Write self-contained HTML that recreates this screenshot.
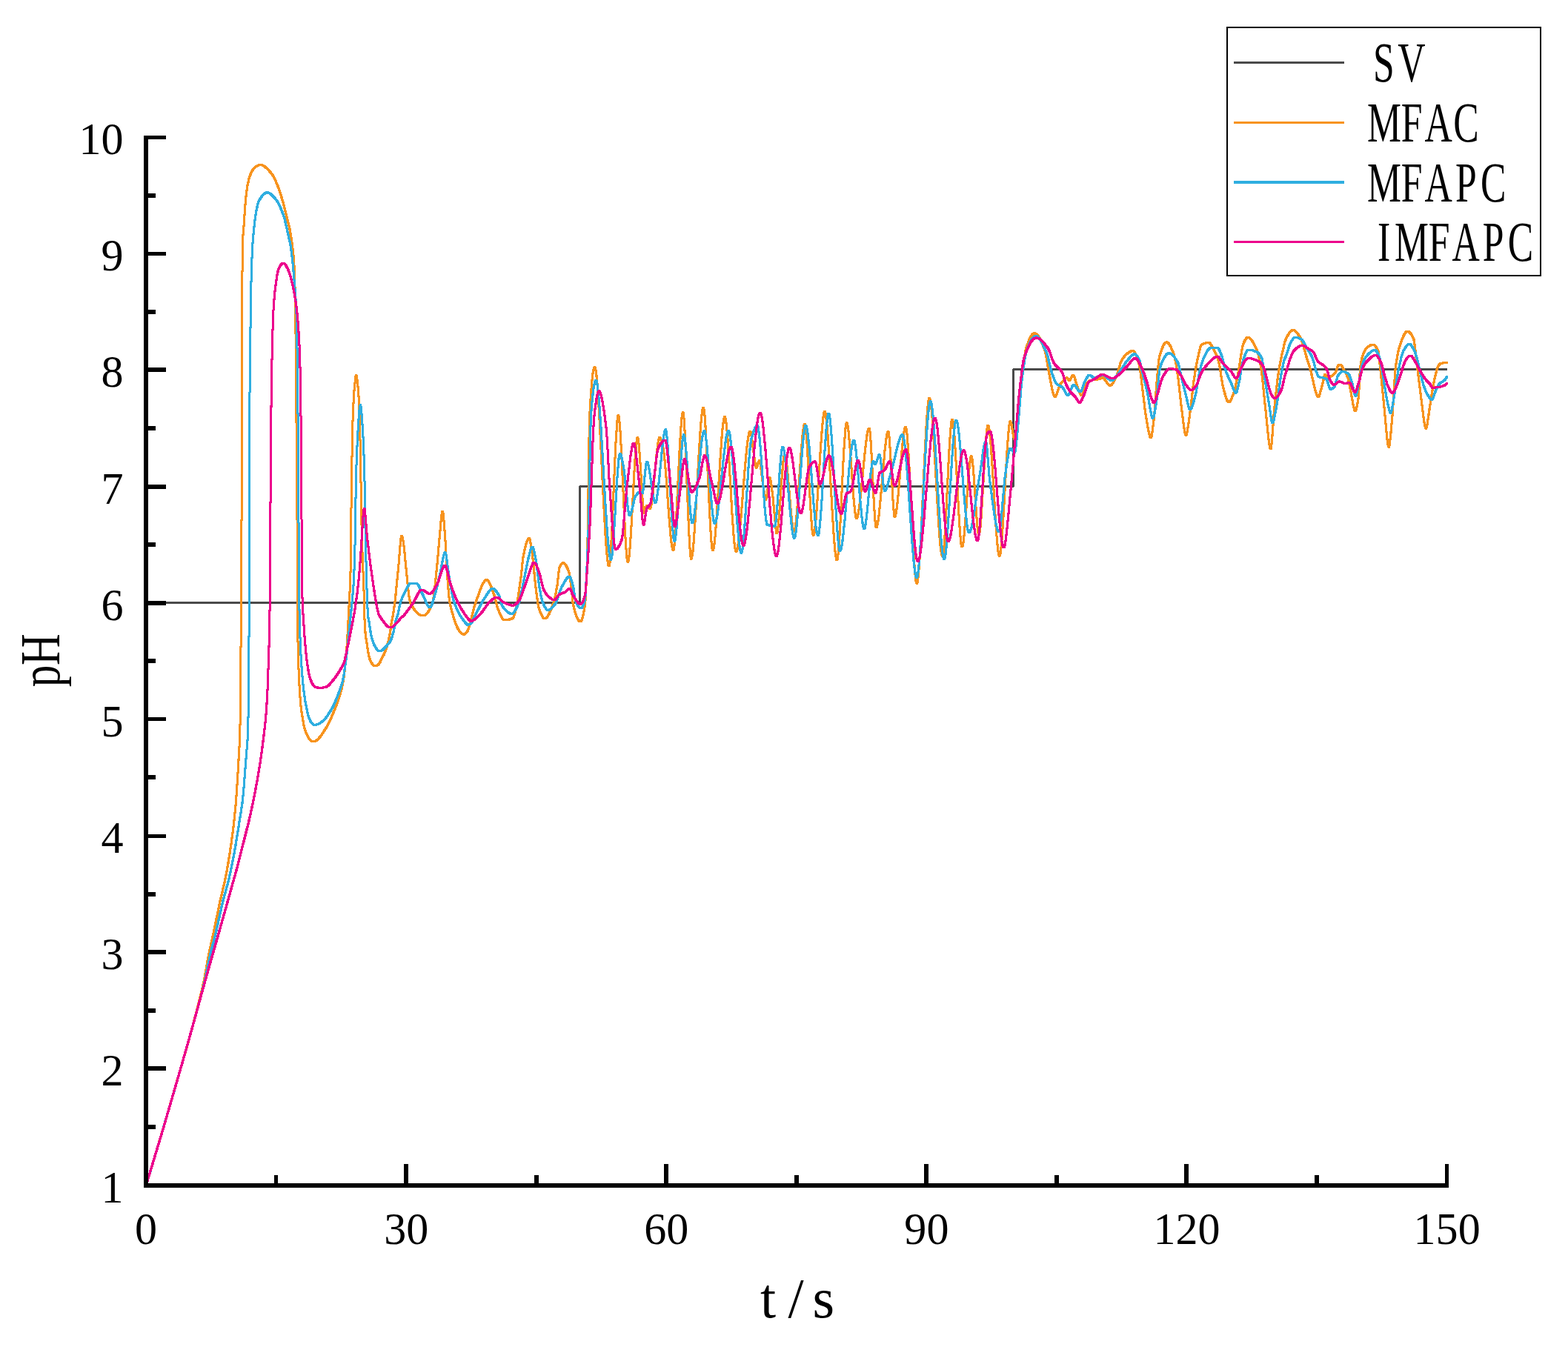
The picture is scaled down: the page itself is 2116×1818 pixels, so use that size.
<!DOCTYPE html>
<html lang="en"><head><meta charset="utf-8">
<style>html,body{margin:0;padding:0;background:#fff}body{width:2116px;height:1818px;overflow:hidden}svg{display:block}text{font-family:"Liberation Serif",serif;fill:#000}.c{fill:none;stroke-width:3;stroke-linejoin:round;stroke-linecap:butt}</style></head><body>
<svg width="2116" height="1818" viewBox="0 0 2116 1818">
<rect width="2116" height="1818" fill="#fff"/>
<g class="c" shape-rendering="crispEdges">
<path stroke="#4A4A4A" stroke-width="3" stroke-linejoin="bevel" d="M197.1 813.5 H782.5 V656.5 H1367.5 V498.5 H1952.9"/>
<defs>
<path id="co" d="M197.1 1600.0 L221.4 1519.3 L252.0 1413.7 L260.2 1384.2 L267.2 1357.6 L271.4 1341.0 L275.7 1321.7 L280.3 1295.7 L282.2 1286.1 L288.5 1257.6 L296.8 1217.2 L302.9 1191.4 L305.5 1178.9 L308.6 1161.2 L311.7 1140.9 L314.1 1123.6 L316.2 1105.2 L318.5 1081.6 L320.2 1056.5 L323.4 1001.8 L324.1 974.1 L325.1 864.4 L326.1 687.8 L326.9 378.5 L327.2 347.2 L327.8 322.0 L328.3 310.7 L329.6 300.3 L330.2 286.1 L330.7 278.9 L332.4 260.9 L334.1 249.6 L336.2 240.5 L337.3 237.2 L338.7 233.9 L340.5 230.4 L341.9 228.1 L343.8 226.0 L345.9 224.4 L348.2 223.2 L349.6 222.6 L350.9 222.4 L352.4 222.6 L354.5 223.3 L356.4 224.2 L360.8 227.9 L365.5 233.0 L368.4 237.0 L371.5 243.1 L375.7 253.1 L377.4 257.8 L382.7 275.6 L390.4 306.6 L391.7 312.8 L393.5 324.4 L395.9 343.5 L396.9 355.8 L397.7 376.0 L398.4 401.8 L398.9 436.0 L400.9 677.7 L401.7 842.8 L402.2 879.5 L403.2 908.0 L404.4 932.6 L405.7 950.1 L407.3 963.0 L410.0 978.7 L411.2 983.6 L412.5 987.6 L414.1 991.5 L416.1 995.2 L417.7 997.8 L419.1 999.3 L421.0 1000.4 L422.9 1001.0 L424.6 1000.9 L426.6 999.8 L429.5 997.5 L432.1 994.3 L435.6 989.5 L440.4 981.8 L443.5 976.2 L446.2 970.7 L453.7 952.6 L456.6 944.5 L458.7 938.1 L461.0 929.6 L462.6 922.8 L463.8 915.3 L465.0 906.3 L467.0 886.4 L468.7 863.6 L472.7 785.6 L473.1 768.3 L474.5 642.1 L475.9 571.7 L476.7 549.5 L477.9 528.4 L479.4 512.4 L480.0 508.2 L480.6 506.7 L481.1 507.6 L481.7 510.5 L483.0 521.6 L484.3 538.6 L485.1 555.0 L485.8 582.4 L488.4 729.6 L491.3 805.0 L491.8 832.5 L492.9 852.4 L493.6 859.3 L496.7 879.3 L497.7 884.7 L498.9 889.2 L499.7 891.4 L500.7 893.5 L503.4 897.3 L504.7 898.3 L507.5 898.8 L508.5 898.5 L509.8 897.7 L510.8 896.9 L511.8 895.6 L513.3 893.0 L515.6 887.5 L518.4 882.7 L519.8 879.3 L522.6 871.1 L524.2 865.3 L525.3 860.0 L526.9 851.0 L528.2 840.7 L529.9 832.7 L531.2 824.6 L533.2 810.9 L538.0 761.7 L540.4 732.2 L541.0 726.7 L541.6 723.9 L541.9 723.5 L542.3 723.7 L543.1 725.6 L543.9 729.4 L544.8 734.9 L546.1 746.6 L547.7 764.3 L550.8 795.1 L552.2 806.2 L553.5 812.7 L555.5 816.9 L558.3 821.5 L560.9 825.0 L563.6 827.8 L566.2 829.6 L568.9 830.8 L571.6 831.0 L573.6 830.3 L575.2 829.0 L576.8 827.2 L578.4 824.8 L580.1 821.7 L583.7 813.3 L584.9 807.8 L586.7 793.9 L589.9 762.6 L595.4 699.7 L596.3 692.7 L596.7 690.9 L597.1 690.1 L597.3 690.2 L597.6 691.0 L598.1 693.8 L599.4 707.4 L601.1 731.0 L602.6 760.6 L604.1 783.1 L605.5 801.4 L606.6 811.3 L607.9 817.5 L610.3 826.9 L612.5 834.5 L614.6 840.6 L616.7 845.8 L618.7 849.8 L620.8 852.9 L622.8 855.0 L623.9 855.7 L625.0 856.1 L626.1 856.3 L626.9 856.1 L628.0 855.3 L629.4 853.8 L630.4 852.6 L631.3 850.9 L632.6 847.5 L634.0 842.9 L640.5 817.3 L646.9 799.3 L649.7 792.0 L652.0 787.2 L654.1 784.1 L655.1 783.1 L656.0 782.7 L656.7 782.6 L657.4 782.8 L658.8 784.0 L660.4 786.4 L662.1 790.1 L667.6 805.0 L670.7 817.6 L671.8 821.4 L675.5 830.3 L678.0 834.9 L679.0 836.1 L680.0 836.8 L680.7 837.0 L682.6 836.9 L685.5 836.5 L688.4 835.8 L691.8 834.5 L692.5 833.9 L693.7 831.2 L695.0 826.6 L697.7 814.7 L698.9 808.1 L703.1 778.0 L705.5 756.0 L706.6 748.4 L708.9 738.4 L710.8 731.7 L712.5 727.7 L713.3 726.7 L714.0 726.4 L714.4 726.5 L714.7 727.0 L715.4 729.3 L717.2 740.1 L719.6 758.8 L722.6 790.0 L724.6 805.4 L726.0 814.6 L726.9 819.2 L727.7 822.2 L730.2 828.7 L732.2 832.7 L733.6 834.4 L734.3 834.9 L735.0 835.1 L736.5 834.7 L738.1 833.3 L739.8 830.8 L741.6 827.3 L746.2 816.1 L747.4 812.4 L748.7 807.3 L751.5 793.0 L752.3 787.7 L754.0 771.6 L754.7 767.2 L756.0 764.0 L757.5 761.4 L758.8 760.1 L759.4 759.8 L760.1 759.7 L761.0 760.0 L761.9 760.7 L763.9 763.3 L766.5 768.5 L767.4 770.6 L768.0 772.7 L769.3 779.6 L771.0 791.5 L773.2 814.7 L774.6 820.7 L776.4 827.1 L778.5 833.0 L780.6 836.9 L781.7 838.1 L782.8 838.8 L783.6 838.8 L784.4 838.1 L785.3 836.3 L786.3 833.2 L788.3 823.6 L789.7 814.3 L790.5 802.6 L792.1 762.9 L793.1 722.4 L795.0 591.7 L795.6 563.1 L797.3 534.0 L799.1 512.2 L800.0 504.5 L800.8 499.6 L801.7 496.3 L802.1 495.5 L802.5 495.2 L803.0 495.6 L803.5 497.0 L804.5 502.8 L805.5 512.0 L806.6 525.7 L809.2 569.0 L814.6 679.1 L817.0 722.1 L818.3 740.5 L819.5 753.4 L820.6 761.0 L821.2 763.3 L821.7 764.0 L822.0 763.9 L822.3 763.2 L823.0 759.0 L824.5 740.2 L826.2 707.2 L829.7 624.7 L831.2 593.6 L832.8 569.9 L833.6 563.2 L834.0 561.4 L834.3 560.9 L834.6 561.0 L834.9 561.7 L835.6 565.6 L837.1 583.0 L838.8 613.8 L842.6 698.3 L844.2 729.2 L845.1 742.8 L845.9 751.8 L846.7 757.2 L847.1 758.4 L847.4 758.7 L848.0 757.5 L848.7 753.7 L850.2 738.3 L851.9 712.1 L855.5 644.7 L857.1 618.2 L858.8 598.1 L859.6 592.7 L860.3 590.6 L860.6 590.6 L860.8 590.9 L861.3 592.9 L862.3 601.3 L863.5 617.2 L867.3 677.2 L868.5 688.8 L869.0 691.3 L869.5 692.1 L869.9 691.7 L870.3 690.8 L872.1 684.0 L872.9 682.3 L873.3 682.3 L873.9 682.7 L876.1 685.9 L877.1 686.7 L877.5 686.6 L877.8 686.1 L878.6 683.6 L879.7 677.4 L881.0 666.8 L885.8 615.8 L887.9 598.3 L888.9 593.0 L889.4 591.5 L889.9 590.6 L890.4 590.6 L891.0 591.2 L892.3 594.2 L895.0 604.7 L896.5 615.4 L898.6 638.7 L902.9 697.9 L904.8 720.8 L905.8 730.3 L906.8 737.4 L907.7 741.3 L908.2 742.3 L908.6 742.5 L908.9 742.0 L909.3 740.5 L910.1 734.9 L911.8 713.1 L913.4 684.1 L917.1 607.5 L918.9 577.1 L919.7 567.2 L920.5 560.2 L921.2 556.9 L921.6 556.3 L921.9 556.7 L922.5 559.7 L923.1 565.7 L924.5 588.9 L928.9 698.9 L930.4 730.9 L931.7 748.9 L932.3 753.1 L932.8 754.2 L933.2 753.8 L933.6 752.7 L934.5 747.9 L935.4 740.2 L936.3 729.9 L938.4 698.5 L943.0 614.8 L945.0 582.7 L946.1 568.7 L947.1 558.8 L948.0 552.9 L948.5 551.0 L948.9 550.2 L949.3 550.1 L949.6 550.7 L950.3 554.5 L951.1 562.3 L951.9 573.2 L953.6 604.4 L958.4 707.6 L959.9 730.3 L960.6 737.3 L961.2 741.0 L961.6 742.3 L962.0 742.4 L962.5 741.6 L963.0 739.9 L964.0 733.8 L965.0 724.7 L967.3 695.0 L972.0 619.0 L974.1 589.3 L975.2 577.2 L976.2 569.0 L977.2 564.0 L977.7 562.9 L978.1 562.6 L978.5 563.1 L979.0 564.7 L979.9 570.1 L980.9 579.4 L981.9 591.6 L983.8 620.7 L988.1 695.2 L990.1 723.5 L991.0 733.0 L991.8 739.2 L992.6 743.1 L993.0 744.0 L993.3 744.3 L993.7 744.1 L994.2 743.3 L995.2 739.8 L996.2 734.1 L997.3 725.8 L999.8 700.2 L1005.2 632.7 L1007.5 607.6 L1008.7 597.1 L1009.9 589.1 L1011.0 584.3 L1011.6 582.9 L1012.1 582.4 L1012.6 582.7 L1013.1 583.8 L1014.3 589.4 L1018.5 621.9 L1019.4 627.4 L1020.2 630.7 L1020.6 631.5 L1021.3 630.7 L1023.6 623.6 L1024.4 621.9 L1024.7 621.6 L1025.0 621.7 L1025.6 623.4 L1026.4 628.2 L1028.1 642.0 L1031.3 665.2 L1032.2 670.5 L1033.0 673.5 L1033.4 674.1 L1033.8 673.9 L1034.6 671.0 L1037.1 651.5 L1038.0 646.2 L1038.4 644.9 L1038.8 644.5 L1039.2 645.0 L1039.6 646.2 L1040.8 653.2 L1043.1 671.9 L1047.1 714.0 L1047.6 718.1 L1048.1 719.9 L1048.4 719.7 L1048.7 719.1 L1049.4 716.0 L1050.8 703.9 L1052.2 686.4 L1055.3 642.2 L1056.9 624.0 L1057.6 618.5 L1058.3 615.1 L1058.9 613.9 L1059.2 614.0 L1059.6 614.6 L1060.2 616.7 L1060.9 620.4 L1062.4 632.7 L1067.1 687.6 L1068.7 703.7 L1070.2 713.9 L1070.9 716.5 L1071.3 717.2 L1071.6 717.3 L1072.0 716.9 L1072.4 715.9 L1073.3 711.5 L1074.2 704.5 L1075.2 694.2 L1077.0 670.9 L1081.0 612.1 L1083.0 588.3 L1083.9 580.5 L1084.7 575.6 L1085.5 572.9 L1085.9 572.5 L1086.2 572.7 L1086.8 574.8 L1087.5 579.8 L1089.0 597.9 L1093.6 681.3 L1095.2 705.8 L1096.0 714.7 L1096.7 719.9 L1097.3 722.3 L1097.6 722.7 L1098.0 722.4 L1098.8 719.9 L1099.7 714.4 L1101.6 694.8 L1103.4 669.3 L1107.6 602.2 L1109.6 575.7 L1111.3 560.7 L1112.1 556.8 L1112.5 555.8 L1112.9 555.4 L1113.3 555.7 L1113.7 556.7 L1114.6 561.2 L1115.5 568.5 L1116.4 578.2 L1118.6 610.0 L1123.3 693.1 L1125.3 724.1 L1126.4 737.8 L1127.5 748.1 L1128.5 754.0 L1129.0 755.5 L1129.4 756.0 L1129.7 755.8 L1130.1 754.7 L1130.8 750.7 L1132.3 733.9 L1134.0 705.1 L1137.6 630.9 L1139.2 601.6 L1140.8 580.2 L1141.6 573.8 L1142.3 571.0 L1142.6 570.7 L1143.0 571.1 L1143.7 573.2 L1144.5 577.9 L1145.3 584.6 L1147.1 605.2 L1150.9 659.0 L1152.5 678.9 L1154.2 693.9 L1155.0 697.8 L1155.4 698.9 L1155.8 699.3 L1156.3 699.1 L1156.8 698.2 L1157.8 694.9 L1158.9 689.0 L1160.1 680.4 L1162.2 661.4 L1167.1 610.6 L1169.5 590.6 L1170.5 584.6 L1171.5 580.3 L1172.5 578.1 L1173.0 577.9 L1173.3 578.5 L1173.8 581.1 L1174.3 585.5 L1175.5 601.9 L1179.1 673.7 L1180.4 695.9 L1181.5 708.1 L1182.0 711.0 L1182.3 711.8 L1182.5 711.9 L1182.9 711.6 L1183.4 710.6 L1184.3 707.3 L1185.2 702.0 L1186.2 694.4 L1188.3 673.5 L1194.0 608.3 L1195.8 593.0 L1196.6 588.1 L1197.4 584.6 L1198.2 582.7 L1198.6 582.4 L1198.9 582.7 L1199.5 585.4 L1200.1 590.8 L1201.5 610.8 L1205.4 681.6 L1206.6 694.5 L1207.1 697.0 L1207.3 697.4 L1207.6 697.5 L1208.0 697.0 L1208.4 696.1 L1209.3 692.2 L1211.1 678.6 L1212.9 659.4 L1217.0 609.5 L1219.0 589.7 L1219.9 583.1 L1220.8 578.6 L1221.6 576.4 L1222.0 576.1 L1222.4 576.5 L1223.2 579.7 L1224.1 587.0 L1226.0 612.3 L1227.8 645.1 L1231.9 728.9 L1233.8 761.1 L1235.5 780.6 L1236.3 785.6 L1236.7 786.9 L1237.1 787.4 L1237.5 787.1 L1238.0 785.6 L1238.9 780.0 L1239.9 769.9 L1240.9 756.4 L1243.1 717.3 L1247.8 616.8 L1249.8 579.0 L1250.9 562.1 L1251.9 550.0 L1252.9 541.7 L1253.8 537.9 L1254.3 537.5 L1254.8 538.1 L1255.8 542.3 L1256.9 550.7 L1258.0 562.6 L1260.3 596.0 L1265.2 682.5 L1267.2 713.9 L1268.3 728.2 L1269.4 739.4 L1270.4 746.5 L1271.3 750.0 L1271.7 750.5 L1272.1 750.4 L1272.8 747.8 L1273.6 741.6 L1274.5 731.0 L1276.3 701.3 L1280.1 623.6 L1281.7 594.9 L1283.4 573.6 L1284.2 568.1 L1284.6 566.7 L1285.0 566.2 L1285.3 566.5 L1285.7 567.7 L1286.4 571.7 L1287.9 587.4 L1289.6 614.0 L1294.7 707.3 L1296.3 727.7 L1297.1 734.1 L1297.8 737.3 L1298.1 737.9 L1298.5 737.9 L1299.2 736.1 L1300.0 731.8 L1300.8 725.3 L1302.6 704.7 L1306.2 653.8 L1307.7 635.1 L1309.3 621.0 L1310.0 617.4 L1310.7 615.8 L1311.0 615.7 L1311.3 616.2 L1311.9 618.8 L1313.3 631.2 L1314.6 648.5 L1317.6 694.4 L1319.1 712.4 L1319.8 718.0 L1320.5 721.2 L1320.8 721.7 L1321.1 721.7 L1321.8 719.8 L1323.0 711.0 L1324.4 693.8 L1328.9 617.5 L1330.5 593.9 L1332.0 578.9 L1332.7 575.2 L1333.1 574.1 L1333.4 574.0 L1333.8 574.4 L1334.3 575.9 L1335.2 580.9 L1336.2 589.8 L1337.2 601.4 L1339.1 629.2 L1343.5 702.7 L1345.5 730.0 L1346.4 739.2 L1347.3 746.0 L1348.1 749.5 L1348.5 750.3 L1348.9 750.4 L1349.3 749.8 L1349.7 748.4 L1350.5 743.5 L1351.4 735.1 L1352.3 724.1 L1354.1 696.2 L1359.1 607.6 L1360.6 587.1 L1362.0 574.1 L1363.0 569.6 L1363.5 569.0 L1364.0 569.6 L1365.1 573.7 L1367.3 586.7 L1368.2 590.9 L1368.7 592.3 L1369.2 592.9 L1369.6 592.5 L1370.1 591.2 L1371.1 585.7 L1372.3 575.3 L1376.0 532.6 L1377.3 519.6 L1381.0 491.7 L1383.1 478.0 L1384.1 472.8 L1385.1 468.8 L1388.6 459.5 L1390.4 455.6 L1392.0 452.8 L1393.5 450.9 L1395.0 449.8 L1395.8 449.6 L1396.6 449.7 L1398.3 450.4 L1400.1 452.0 L1401.9 454.5 L1403.8 457.8 L1405.8 462.0 L1410.3 473.5 L1411.5 478.6 L1414.5 497.3 L1419.8 525.2 L1420.8 529.5 L1421.8 532.9 L1422.7 534.8 L1423.5 535.5 L1424.3 535.2 L1425.2 533.8 L1426.3 530.9 L1429.6 520.8 L1430.5 519.1 L1432.4 516.5 L1437.6 511.0 L1438.6 510.2 L1439.4 509.8 L1440.0 509.8 L1440.4 510.1 L1442.4 513.4 L1442.8 513.6 L1443.2 513.4 L1444.3 512.1 L1446.8 507.1 L1447.4 506.3 L1448.0 506.0 L1448.4 506.0 L1448.9 506.6 L1449.9 508.7 L1453.5 521.2 L1456.7 529.5 L1458.2 532.6 L1458.8 533.3 L1459.4 533.6 L1459.8 533.6 L1460.3 533.2 L1461.2 531.6 L1464.3 522.3 L1465.5 519.6 L1468.8 515.4 L1470.1 514.3 L1471.3 513.6 L1474.3 512.9 L1482.4 511.8 L1483.7 511.4 L1486.6 510.0 L1488.1 509.8 L1489.2 510.4 L1490.4 511.6 L1494.6 517.5 L1496.2 519.3 L1497.0 519.9 L1497.8 520.3 L1498.5 520.3 L1499.2 520.0 L1500.5 518.9 L1501.9 516.9 L1506.2 508.9 L1507.8 504.5 L1512.2 489.7 L1513.3 487.1 L1515.5 483.5 L1517.4 480.9 L1519.3 478.8 L1520.8 477.5 L1524.0 475.3 L1526.0 474.2 L1527.7 473.6 L1529.0 473.6 L1530.0 474.2 L1531.7 476.4 L1533.6 480.5 L1536.0 487.5 L1537.7 493.6 L1539.3 504.3 L1545.0 551.6 L1546.3 561.2 L1549.1 577.4 L1550.5 584.5 L1551.9 589.4 L1552.5 590.5 L1553.1 591.0 L1553.5 590.6 L1553.9 589.6 L1554.8 585.2 L1557.5 562.8 L1560.5 522.2 L1562.8 496.0 L1564.1 484.5 L1564.9 480.4 L1567.9 471.1 L1570.1 466.1 L1571.2 464.3 L1572.2 463.0 L1573.7 462.0 L1575.1 461.9 L1576.6 462.9 L1578.1 464.8 L1580.0 468.3 L1582.2 473.4 L1584.3 479.0 L1585.5 483.5 L1587.4 493.4 L1589.9 509.5 L1594.0 547.1 L1597.8 577.1 L1599.1 584.6 L1599.7 586.5 L1600.3 587.2 L1600.6 587.1 L1601.0 586.5 L1601.8 584.1 L1603.6 574.1 L1607.1 548.5 L1610.5 517.7 L1613.3 499.3 L1615.2 489.0 L1618.4 474.2 L1619.8 468.8 L1620.9 466.2 L1621.4 465.6 L1623.0 464.6 L1626.4 463.1 L1629.7 462.4 L1631.2 462.4 L1631.9 462.6 L1633.2 463.7 L1634.6 465.7 L1640.2 476.3 L1642.9 482.7 L1645.2 490.2 L1646.3 496.1 L1649.6 518.1 L1652.9 531.2 L1654.5 536.6 L1655.9 540.2 L1657.2 542.4 L1657.8 542.8 L1658.4 542.9 L1659.2 542.6 L1660.0 541.7 L1661.8 538.5 L1665.3 529.3 L1666.7 524.4 L1668.4 516.5 L1671.9 498.1 L1675.8 472.8 L1677.5 464.8 L1679.8 459.7 L1681.9 456.6 L1682.8 455.8 L1683.6 455.4 L1684.5 455.5 L1685.5 455.8 L1687.6 457.5 L1689.8 460.3 L1692.4 464.6 L1695.5 470.7 L1696.8 474.2 L1698.1 478.7 L1700.8 490.8 L1702.0 497.6 L1703.2 507.3 L1711.9 592.4 L1713.4 602.4 L1714.1 604.9 L1714.5 605.7 L1714.8 605.9 L1715.1 605.5 L1715.5 603.8 L1716.3 597.1 L1719.3 556.5 L1722.3 526.7 L1724.4 508.9 L1726.6 495.1 L1729.4 481.0 L1734.2 460.2 L1736.6 454.9 L1739.1 450.5 L1741.3 447.6 L1743.4 446.0 L1744.8 445.5 L1746.2 445.7 L1747.7 446.5 L1749.2 447.9 L1751.0 450.0 L1753.1 453.1 L1755.7 457.4 L1756.8 459.8 L1758.7 465.7 L1763.1 481.9 L1768.9 500.5 L1774.1 523.7 L1776.8 532.6 L1777.5 534.4 L1778.2 535.6 L1778.9 536.0 L1779.5 535.6 L1780.2 534.4 L1780.9 532.5 L1784.8 518.0 L1786.9 508.6 L1787.9 505.8 L1788.3 505.5 L1789.0 505.8 L1791.2 508.7 L1792.1 509.4 L1794.2 508.9 L1797.8 507.0 L1800.2 505.1 L1802.3 502.5 L1803.0 500.9 L1804.7 495.4 L1805.4 494.0 L1807.3 492.4 L1808.1 492.2 L1808.8 492.3 L1810.1 493.3 L1811.7 495.6 L1816.9 504.8 L1819.0 509.8 L1820.0 513.9 L1822.7 527.4 L1826.5 548.4 L1827.7 552.8 L1828.3 554.0 L1828.8 554.3 L1829.3 554.1 L1829.8 553.3 L1830.9 549.8 L1832.0 544.3 L1833.3 535.8 L1833.8 529.1 L1835.4 498.0 L1837.0 487.6 L1838.8 480.3 L1840.2 476.6 L1842.1 472.6 L1843.8 470.0 L1845.4 468.4 L1849.2 466.1 L1850.8 465.5 L1852.2 465.2 L1853.2 465.2 L1854.2 465.6 L1855.2 466.3 L1856.3 467.4 L1858.1 470.1 L1859.9 473.8 L1860.8 478.4 L1868.2 552.2 L1871.6 589.7 L1872.9 599.6 L1873.5 602.2 L1874.1 603.2 L1874.4 602.9 L1874.8 601.8 L1875.5 598.0 L1877.2 581.8 L1879.4 556.0 L1882.5 505.0 L1883.1 498.3 L1884.3 489.1 L1886.3 477.1 L1888.3 468.7 L1892.7 456.4 L1894.5 452.4 L1896.1 449.6 L1897.5 448.0 L1898.8 447.3 L1900.3 447.4 L1901.9 448.2 L1903.6 450.0 L1905.4 452.7 L1907.6 457.1 L1908.2 459.1 L1909.3 466.4 L1911.9 490.1 L1921.2 564.8 L1922.8 574.6 L1923.5 577.1 L1924.1 578.1 L1924.5 578.1 L1925.0 577.3 L1926.0 573.3 L1929.4 549.9 L1934.2 519.9 L1937.2 505.7 L1939.4 497.4 L1940.9 493.9 L1942.4 491.9 L1943.7 490.7 L1948.0 489.7 L1952.9 489.4"/>
<path id="cb" d="M197.1 1600.0 L217.2 1533.5 L236.0 1469.1 L257.2 1395.0 L268.8 1353.2 L273.8 1334.1 L277.2 1319.8 L283.8 1288.2 L291.6 1257.4 L300.7 1216.7 L308.1 1189.7 L311.7 1173.5 L315.1 1156.8 L318.1 1140.0 L325.2 1095.9 L327.3 1081.6 L329.0 1063.2 L331.7 1027.7 L334.0 999.4 L334.6 985.9 L335.2 960.0 L335.7 915.2 L336.1 845.0 L336.5 615.5 L336.7 557.1 L338.3 417.2 L339.0 380.5 L339.8 352.1 L340.7 332.2 L341.9 316.8 L344.0 296.8 L345.9 284.4 L348.0 275.2 L348.8 272.7 L350.0 270.2 L351.7 267.2 L353.5 264.7 L355.8 262.4 L358.1 260.6 L359.6 259.9 L360.6 259.8 L361.9 260.1 L363.9 261.0 L365.5 262.1 L367.8 264.1 L371.1 267.6 L374.0 271.6 L377.3 277.3 L382.4 290.0 L383.6 293.6 L385.6 301.9 L391.8 329.6 L393.6 341.7 L395.5 359.7 L398.4 394.7 L399.5 410.7 L400.1 425.5 L400.8 452.9 L401.9 540.6 L403.7 806.1 L404.4 843.1 L405.6 877.0 L406.9 898.9 L408.5 919.0 L410.3 935.9 L412.4 949.2 L415.3 963.0 L416.4 967.1 L417.6 970.5 L418.9 973.3 L420.2 975.3 L422.3 977.5 L423.2 978.1 L424.1 978.4 L426.8 978.1 L430.3 977.0 L433.2 975.1 L436.8 972.1 L439.6 969.1 L441.7 966.3 L447.0 957.9 L449.4 953.8 L451.7 948.8 L456.7 936.5 L461.1 923.7 L462.4 919.3 L463.4 914.8 L465.6 900.5 L467.7 884.5 L469.8 865.3 L474.7 816.7 L476.6 796.0 L477.4 784.4 L478.2 765.1 L479.0 736.6 L480.4 648.5 L481.3 617.8 L482.5 591.0 L483.9 567.2 L485.2 552.2 L485.8 548.2 L486.3 546.8 L486.5 547.0 L486.8 547.9 L487.4 551.4 L488.6 566.1 L490.0 590.0 L491.2 618.1 L492.0 649.1 L493.1 717.8 L493.8 750.9 L495.4 808.6 L496.4 828.8 L496.8 832.5 L498.0 839.0 L500.6 856.5 L501.5 860.3 L503.5 866.9 L504.9 870.3 L508.6 876.5 L510.6 878.4 L512.9 878.8 L514.2 878.5 L515.7 877.7 L519.8 873.9 L525.5 867.4 L526.6 865.7 L527.7 863.4 L529.2 859.3 L531.2 852.3 L534.3 837.2 L536.9 829.3 L539.3 817.4 L540.9 811.7 L542.7 806.7 L545.2 801.3 L548.4 795.1 L552.6 787.8 L562.5 787.8 L563.1 788.0 L563.7 788.5 L564.6 789.7 L565.6 791.6 L568.9 799.3 L571.2 804.0 L575.2 813.2 L577.0 816.8 L578.3 818.7 L579.5 819.7 L580.6 819.9 L581.5 819.0 L582.5 817.0 L583.7 813.6 L588.7 796.1 L593.9 774.4 L598.3 751.7 L599.6 747.3 L600.2 746.2 L600.7 745.8 L601.0 745.9 L601.4 746.6 L602.1 749.6 L605.6 775.8 L610.0 800.8 L611.4 807.5 L612.6 812.0 L614.2 816.4 L616.4 821.7 L618.5 826.1 L620.7 830.2 L622.9 833.7 L625.3 837.0 L627.9 840.2 L630.7 843.1 L632.5 842.9 L634.8 842.0 L635.6 841.5 L636.5 840.4 L638.2 837.3 L642.0 829.0 L649.3 815.2 L652.3 809.8 L660.3 797.6 L662.3 795.4 L664.0 794.4 L664.8 794.3 L665.7 794.5 L667.6 795.8 L669.6 798.0 L672.0 801.5 L673.4 803.8 L674.0 805.2 L676.8 815.0 L677.8 817.7 L679.6 820.3 L682.1 823.3 L683.9 825.1 L685.6 826.5 L687.2 827.4 L688.8 828.1 L690.3 828.3 L691.3 828.2 L692.4 827.6 L693.5 826.5 L695.4 823.6 L697.6 819.4 L699.6 815.1 L700.9 811.1 L702.9 802.9 L707.0 783.4 L712.2 756.6 L716.1 742.0 L717.3 739.1 L717.8 738.4 L718.3 738.1 L718.8 738.3 L719.3 739.0 L720.3 741.8 L721.4 746.5 L722.8 753.9 L724.6 764.8 L727.4 789.6 L730.4 805.9 L731.5 810.3 L732.5 813.3 L735.1 818.8 L737.1 821.9 L738.1 822.9 L739.1 823.4 L740.4 823.3 L741.8 822.7 L743.3 821.7 L744.9 820.3 L749.0 815.5 L750.1 813.6 L751.3 810.8 L756.1 796.9 L758.2 791.9 L762.4 784.4 L764.5 781.2 L766.6 779.0 L767.5 778.5 L768.4 778.3 L768.8 778.4 L769.3 778.8 L770.2 780.5 L771.3 783.6 L772.6 788.3 L773.9 793.7 L776.0 807.9 L776.4 809.6 L777.4 812.1 L779.8 817.1 L780.9 818.8 L781.9 820.0 L782.9 820.7 L783.9 820.9 L784.7 820.7 L785.6 819.9 L786.8 817.9 L788.0 814.9 L789.5 809.6 L789.8 807.4 L790.6 795.2 L792.6 752.4 L793.7 725.6 L794.6 697.7 L796.6 589.2 L797.4 561.3 L799.1 540.6 L800.8 525.5 L802.4 516.6 L803.2 514.2 L804.0 513.2 L804.5 513.4 L805.0 514.4 L806.1 519.5 L807.2 528.0 L808.4 540.6 L811.1 578.8 L816.8 677.8 L819.3 716.1 L820.6 732.2 L821.9 744.5 L823.1 751.9 L823.7 754.1 L824.3 755.0 L824.6 755.0 L824.9 754.5 L825.6 751.6 L826.3 746.4 L827.1 738.0 L828.7 715.5 L833.5 636.3 L835.0 619.6 L835.7 614.8 L836.3 612.5 L836.7 612.1 L837.2 612.4 L838.3 615.0 L839.6 620.5 L841.7 631.1 L843.2 643.5 L847.1 683.6 L848.3 692.0 L848.8 694.2 L849.3 695.5 L849.8 695.7 L850.4 695.2 L851.6 692.4 L852.8 688.0 L855.9 674.7 L856.8 671.7 L857.6 669.9 L860.3 666.1 L861.3 665.1 L862.2 664.5 L862.9 664.3 L863.6 664.3 L866.5 666.0 L866.9 666.0 L867.2 665.4 L867.8 662.7 L868.5 657.7 L871.6 628.5 L872.3 624.5 L872.7 623.2 L873.0 622.9 L873.6 623.3 L874.3 624.8 L875.8 631.3 L877.2 640.0 L880.5 663.7 L882.0 672.4 L883.3 677.3 L883.9 678.4 L884.5 678.6 L884.9 678.2 L885.3 677.3 L886.1 674.3 L887.9 662.5 L889.6 646.8 L893.4 607.2 L895.2 591.7 L896.8 582.6 L897.5 580.5 L897.9 579.9 L898.2 579.7 L898.5 580.0 L898.8 580.8 L899.4 583.9 L900.8 597.7 L902.4 621.9 L905.7 682.3 L907.2 706.6 L908.7 723.9 L909.4 728.6 L910.1 730.7 L910.4 730.7 L910.8 730.0 L911.5 726.9 L913.0 713.3 L914.7 689.7 L919.5 612.0 L921.1 594.4 L921.8 589.7 L922.5 587.2 L922.8 586.9 L923.1 587.1 L923.8 589.3 L924.5 593.8 L925.3 601.2 L926.8 620.2 L931.1 684.1 L932.4 697.8 L933.0 702.0 L933.6 704.7 L934.0 705.5 L934.4 705.5 L934.9 704.9 L935.4 703.6 L936.4 699.2 L937.4 692.8 L939.6 673.2 L944.4 619.6 L946.4 600.2 L947.5 591.8 L948.5 586.1 L949.5 582.5 L950.0 581.7 L950.4 581.5 L950.8 581.9 L951.2 582.8 L952.1 586.7 L953.9 601.1 L955.7 621.5 L959.6 671.9 L961.5 692.0 L963.1 703.1 L963.8 705.6 L964.2 706.3 L964.5 706.5 L965.0 706.2 L965.6 705.2 L966.7 701.6 L967.9 695.4 L969.1 687.2 L971.4 667.4 L976.7 615.3 L979.1 596.0 L980.2 589.3 L981.2 584.9 L982.2 582.2 L982.7 581.6 L983.1 581.5 L983.6 582.0 L984.1 583.3 L985.1 587.9 L986.2 595.9 L987.4 607.4 L989.5 632.7 L994.5 701.4 L996.9 728.2 L997.9 736.4 L998.9 742.3 L999.9 745.6 L1000.4 746.1 L1000.8 745.8 L1001.6 743.3 L1002.4 738.4 L1004.1 721.2 L1005.8 697.5 L1010.2 628.4 L1011.5 611.6 L1012.7 599.7 L1013.9 592.5 L1017.3 581.6 L1018.6 578.4 L1019.8 576.1 L1020.9 574.8 L1022.0 574.3 L1022.3 574.4 L1022.7 575.2 L1023.5 578.6 L1025.1 591.5 L1026.8 612.0 L1031.9 683.6 L1033.5 699.5 L1034.2 704.2 L1034.9 707.2 L1035.4 708.2 L1036.9 708.7 L1040.7 709.7 L1044.4 710.1 L1045.5 710.1 L1045.7 709.9 L1046.4 707.7 L1047.4 700.8 L1048.6 687.9 L1052.4 633.9 L1053.8 616.9 L1055.2 605.8 L1055.8 603.6 L1056.1 603.1 L1056.4 603.1 L1056.8 603.6 L1057.3 604.8 L1058.2 608.5 L1059.2 614.7 L1060.2 622.9 L1062.1 642.1 L1066.5 692.7 L1068.5 711.6 L1069.4 718.0 L1070.3 722.8 L1071.1 725.4 L1071.5 726.1 L1071.9 726.3 L1072.3 726.0 L1072.8 724.7 L1073.7 720.4 L1074.7 712.9 L1075.7 703.0 L1077.6 679.2 L1082.1 614.9 L1084.2 590.6 L1085.2 582.3 L1086.1 577.1 L1087.0 574.5 L1087.4 574.3 L1087.9 574.8 L1088.8 577.6 L1089.7 582.5 L1091.7 599.8 L1093.6 621.9 L1098.1 680.9 L1100.3 704.8 L1101.3 712.9 L1102.2 718.4 L1103.1 721.7 L1103.6 722.6 L1104.0 722.7 L1104.4 722.1 L1104.8 720.8 L1105.7 715.5 L1107.5 696.8 L1109.3 670.4 L1113.3 603.6 L1115.2 577.5 L1116.8 563.0 L1117.6 559.2 L1118.0 558.3 L1118.3 558.1 L1118.7 558.5 L1119.1 559.7 L1119.9 563.9 L1121.6 580.6 L1123.6 609.9 L1127.8 684.2 L1129.6 712.5 L1131.5 734.2 L1132.4 740.3 L1133.2 743.1 L1133.6 743.4 L1134.2 742.9 L1135.2 740.1 L1136.3 734.6 L1137.5 726.0 L1140.0 701.9 L1145.0 643.0 L1147.2 619.8 L1149.4 602.6 L1150.4 597.6 L1151.4 594.7 L1151.9 594.1 L1152.3 594.2 L1153.1 595.8 L1154.0 600.1 L1154.9 606.4 L1156.9 626.2 L1161.0 676.7 L1162.8 696.0 L1163.7 703.6 L1164.6 709.3 L1165.5 712.8 L1165.9 713.5 L1166.3 713.7 L1166.9 712.9 L1167.6 710.4 L1169.0 701.5 L1170.5 687.5 L1174.9 640.3 L1176.3 629.4 L1177.0 625.7 L1177.6 623.7 L1178.0 623.0 L1178.5 622.9 L1179.0 623.5 L1180.5 626.2 L1180.9 626.5 L1181.4 626.3 L1182.0 625.4 L1182.6 624.0 L1185.6 615.2 L1186.5 613.9 L1186.9 614.0 L1187.2 614.5 L1187.9 617.3 L1188.7 622.8 L1191.5 649.6 L1192.5 657.5 L1193.5 662.0 L1193.9 662.4 L1194.7 662.1 L1195.9 660.2 L1197.3 656.4 L1201.5 640.8 L1203.8 633.1 L1205.9 624.8 L1210.7 604.2 L1213.1 595.3 L1214.4 591.6 L1215.7 588.8 L1216.9 587.3 L1217.5 587.0 L1218.0 586.9 L1218.5 587.6 L1219.1 589.3 L1220.2 594.8 L1221.4 604.2 L1222.7 617.5 L1225.1 648.3 L1230.5 727.1 L1233.0 757.0 L1234.1 766.9 L1235.1 773.6 L1236.1 777.9 L1236.6 779.0 L1237.1 779.4 L1237.6 778.8 L1238.1 777.3 L1239.1 771.6 L1240.1 762.6 L1241.2 749.5 L1243.6 712.0 L1248.6 618.3 L1250.7 583.2 L1251.9 566.8 L1253.0 554.8 L1254.1 546.5 L1255.1 542.5 L1255.6 541.9 L1256.1 542.4 L1256.6 543.7 L1257.2 546.4 L1258.3 554.1 L1259.5 566.1 L1262.0 600.4 L1267.1 686.1 L1269.3 719.0 L1270.5 733.6 L1271.6 744.1 L1272.6 750.9 L1273.6 754.5 L1274.1 755.1 L1274.5 754.8 L1275.4 751.8 L1276.4 745.1 L1277.4 735.3 L1279.7 703.8 L1284.2 627.5 L1286.2 597.6 L1287.3 584.4 L1288.3 575.2 L1289.3 569.3 L1289.8 567.7 L1290.2 567.2 L1290.6 567.2 L1291.1 568.0 L1292.1 571.5 L1293.1 577.4 L1294.2 586.3 L1296.5 610.7 L1301.1 669.4 L1303.0 691.2 L1305.1 709.5 L1306.0 714.7 L1306.9 718.0 L1307.4 718.9 L1308.0 719.1 L1308.7 718.5 L1309.4 717.2 L1310.8 712.9 L1312.3 706.1 L1314.8 691.0 L1319.7 656.3 L1323.2 634.5 L1327.1 606.9 L1328.8 598.6 L1329.5 596.7 L1330.2 595.9 L1330.6 596.4 L1331.0 597.9 L1331.9 604.9 L1335.5 647.4 L1341.5 692.0 L1343.5 704.2 L1345.2 712.1 L1346.0 714.8 L1346.8 716.7 L1347.6 717.8 L1348.3 717.9 L1348.9 716.7 L1349.5 714.0 L1350.8 703.9 L1354.8 657.5 L1356.1 644.5 L1359.4 621.5 L1361.0 612.0 L1362.2 607.2 L1362.7 606.0 L1363.2 605.4 L1363.8 605.4 L1364.6 605.9 L1367.7 610.1 L1368.4 610.7 L1369.0 611.0 L1369.4 610.9 L1369.7 610.2 L1370.5 606.3 L1371.7 596.2 L1374.4 568.0 L1378.4 518.3 L1381.1 496.5 L1383.3 482.2 L1384.3 477.4 L1385.2 474.1 L1387.5 468.0 L1389.7 462.9 L1391.6 459.2 L1393.4 456.5 L1395.1 454.6 L1396.7 453.6 L1398.1 453.4 L1399.5 453.9 L1401.0 454.9 L1402.6 456.7 L1404.2 459.0 L1406.0 462.2 L1410.3 471.2 L1412.4 476.0 L1413.6 479.7 L1418.0 497.8 L1419.4 502.9 L1422.4 511.4 L1424.3 515.6 L1425.4 517.3 L1427.0 518.8 L1432.3 521.8 L1434.3 523.3 L1435.7 525.4 L1439.1 531.9 L1440.1 533.1 L1441.0 533.6 L1441.4 533.6 L1441.9 533.3 L1442.8 532.0 L1446.8 521.8 L1447.7 520.2 L1448.6 519.4 L1449.7 519.6 L1451.0 520.7 L1455.0 526.5 L1456.3 528.0 L1457.6 528.8 L1458.1 528.9 L1458.6 528.6 L1459.3 527.5 L1460.0 525.9 L1462.5 518.4 L1463.5 515.9 L1467.6 508.4 L1468.8 506.8 L1469.9 506.1 L1470.6 506.0 L1471.4 506.3 L1474.8 509.3 L1475.5 509.6 L1476.2 509.8 L1477.6 509.6 L1479.2 509.2 L1486.1 506.3 L1487.8 506.0 L1489.2 506.0 L1490.3 506.4 L1491.6 507.3 L1496.2 511.6 L1498.1 513.0 L1499.1 513.5 L1500.0 513.6 L1500.9 513.5 L1501.8 513.0 L1503.1 512.1 L1504.5 510.6 L1510.4 503.0 L1512.5 499.9 L1519.1 489.3 L1525.3 481.8 L1527.5 479.6 L1529.4 478.3 L1531.2 477.8 L1532.6 478.3 L1534.1 479.9 L1535.8 482.4 L1537.3 485.2 L1538.2 488.0 L1541.2 501.2 L1548.1 527.9 L1552.2 552.2 L1553.5 558.9 L1554.7 563.0 L1555.2 563.9 L1555.7 564.3 L1556.1 564.1 L1556.6 563.3 L1557.7 559.4 L1560.7 541.5 L1561.6 533.2 L1564.0 505.7 L1564.6 501.0 L1565.5 496.7 L1566.5 493.0 L1567.5 490.2 L1571.3 482.6 L1572.8 480.2 L1574.2 478.4 L1575.5 477.3 L1576.8 476.8 L1578.2 476.9 L1579.7 477.4 L1581.3 478.4 L1582.9 479.9 L1584.7 481.9 L1586.5 484.4 L1588.9 488.2 L1589.9 490.2 L1591.3 495.0 L1594.5 509.5 L1600.4 533.1 L1603.7 548.2 L1604.9 551.9 L1605.4 552.8 L1605.9 553.1 L1606.5 552.9 L1607.2 552.1 L1608.7 549.0 L1610.3 544.1 L1613.1 534.0 L1614.6 526.6 L1618.6 502.7 L1620.3 495.6 L1622.2 488.9 L1624.1 483.7 L1627.4 477.0 L1629.9 472.8 L1632.0 470.3 L1633.0 469.6 L1634.0 469.3 L1642.8 469.3 L1643.8 469.8 L1644.8 471.2 L1646.4 474.4 L1648.7 480.1 L1652.6 495.9 L1654.6 501.9 L1656.7 506.9 L1661.2 516.4 L1665.3 527.1 L1666.6 529.3 L1667.2 529.9 L1667.7 530.1 L1668.4 529.7 L1669.1 528.3 L1670.8 521.9 L1673.1 511.2 L1675.7 494.7 L1676.7 489.7 L1679.7 480.3 L1682.0 474.9 L1682.9 473.4 L1683.8 472.4 L1684.6 472.0 L1685.7 472.0 L1688.2 472.3 L1691.0 473.1 L1695.1 474.7 L1696.9 475.6 L1698.9 477.3 L1700.8 479.7 L1702.6 482.8 L1703.2 485.0 L1704.2 491.0 L1706.6 509.3 L1712.4 544.2 L1715.2 563.7 L1716.3 569.0 L1716.8 570.3 L1717.2 570.7 L1717.6 570.5 L1718.0 570.0 L1718.8 567.9 L1720.7 559.2 L1723.7 542.2 L1727.9 511.6 L1730.6 496.5 L1732.4 488.2 L1733.6 484.4 L1735.4 480.8 L1736.2 478.8 L1739.4 468.2 L1740.7 464.7 L1743.1 460.2 L1744.7 457.6 L1746.1 456.0 L1747.3 455.3 L1750.0 455.4 L1753.2 456.5 L1756.8 458.4 L1758.3 460.1 L1763.2 469.2 L1768.7 477.9 L1770.9 482.3 L1772.3 486.5 L1775.9 500.7 L1778.7 507.4 L1779.4 508.4 L1780.0 508.8 L1787.1 510.3 L1788.9 511.0 L1790.2 511.8 L1791.4 514.4 L1794.0 523.2 L1795.1 525.3 L1795.5 525.5 L1796.2 525.4 L1797.8 524.7 L1799.4 523.4 L1801.2 521.4 L1802.2 518.7 L1804.9 508.4 L1805.4 507.3 L1807.2 504.8 L1809.0 502.9 L1810.7 501.7 L1812.1 501.4 L1814.2 501.7 L1816.5 502.6 L1819.0 504.2 L1820.2 505.2 L1821.2 506.9 L1822.4 510.0 L1824.7 517.2 L1828.0 531.8 L1828.7 533.7 L1829.3 534.3 L1829.8 534.0 L1830.3 533.0 L1831.4 529.0 L1838.1 494.0 L1839.0 491.0 L1840.8 486.4 L1842.3 483.4 L1843.8 481.1 L1846.9 477.7 L1849.4 475.4 L1851.5 473.8 L1853.5 472.8 L1855.5 472.5 L1856.6 473.0 L1858.1 474.8 L1859.8 477.9 L1861.3 481.3 L1862.3 484.8 L1863.8 492.3 L1866.8 509.8 L1870.7 534.7 L1874.4 552.1 L1875.6 555.8 L1876.1 556.7 L1876.6 557.1 L1877.1 556.9 L1877.6 555.9 L1878.7 551.4 L1886.6 502.4 L1888.6 492.7 L1891.0 482.3 L1892.6 476.7 L1894.1 473.1 L1897.5 467.8 L1898.9 466.1 L1900.2 465.0 L1901.3 464.5 L1902.4 464.4 L1903.4 464.9 L1904.4 465.9 L1906.7 469.5 L1910.0 476.5 L1912.0 483.0 L1919.0 512.4 L1921.0 519.6 L1923.4 526.3 L1925.4 530.8 L1928.8 536.3 L1930.8 538.7 L1931.6 539.2 L1932.3 539.3 L1932.8 539.1 L1933.4 538.3 L1934.5 535.7 L1937.3 527.7 L1940.5 521.1 L1942.2 518.2 L1943.9 516.5 L1947.5 514.6 L1949.0 513.5 L1950.8 511.4 L1952.9 508.3"/>
<path id="cm" d="M197.1 1600.0 L220.8 1521.4 L245.6 1435.9 L260.9 1381.8 L278.5 1317.9 L302.3 1234.4 L320.9 1167.7 L335.7 1108.9 L338.9 1094.8 L342.5 1077.7 L346.4 1057.2 L349.1 1041.7 L351.4 1027.2 L353.9 1009.5 L356.8 986.3 L358.1 974.6 L359.0 964.6 L360.1 948.3 L361.0 931.4 L362.8 881.1 L363.8 840.5 L364.3 800.8 L365.4 613.2 L366.2 530.5 L367.3 468.9 L368.6 425.1 L369.5 410.6 L370.7 396.2 L372.2 383.0 L374.1 370.7 L375.3 365.2 L376.7 361.4 L378.9 357.8 L380.2 356.4 L381.3 355.5 L382.5 355.1 L383.6 355.4 L384.8 356.6 L386.1 358.7 L388.3 362.8 L389.7 366.0 L391.2 370.4 L392.8 375.7 L395.6 387.6 L398.3 402.4 L400.4 417.1 L401.8 431.0 L403.0 447.9 L404.0 465.8 L404.9 491.0 L405.5 514.3 L406.5 606.3 L407.4 773.1 L407.9 803.6 L408.7 824.1 L411.1 860.3 L412.6 878.0 L414.4 894.7 L416.4 906.9 L417.6 912.2 L418.9 916.7 L420.4 920.6 L421.8 923.4 L423.6 925.7 L425.3 927.1 L426.6 927.7 L429.7 928.2 L433.8 928.2 L438.3 927.8 L440.0 927.2 L442.0 926.2 L444.0 924.6 L450.5 916.8 L454.3 911.6 L457.4 907.0 L463.1 897.2 L464.2 894.5 L465.2 891.1 L471.4 862.3 L475.8 840.3 L479.2 821.0 L481.7 803.3 L483.6 787.5 L484.9 773.6 L486.9 747.3 L489.8 699.4 L490.7 689.8 L491.1 687.3 L491.5 686.4 L491.8 686.7 L492.1 687.7 L492.7 692.1 L495.5 725.2 L499.7 760.8 L505.1 798.1 L507.1 810.6 L508.8 819.9 L510.6 827.3 L511.3 829.5 L512.1 831.1 L516.1 837.1 L518.8 840.7 L521.4 844.0 L523.0 845.5 L523.9 846.1 L525.4 846.5 L526.8 846.5 L529.1 846.4 L530.0 846.0 L536.8 839.4 L539.6 835.7 L541.2 834.0 L543.0 832.3 L545.0 830.9 L551.3 822.5 L557.8 813.4 L559.6 810.2 L564.6 800.4 L566.1 798.1 L567.5 796.6 L568.3 796.1 L569.0 796.0 L570.8 796.3 L572.6 797.3 L576.9 800.4 L579.1 801.3 L580.1 801.4 L581.0 801.1 L582.0 800.4 L583.0 799.5 L585.6 795.9 L590.3 787.9 L592.1 783.2 L595.7 771.6 L597.2 767.4 L598.8 764.2 L599.5 763.4 L600.2 763.1 L600.7 763.2 L601.3 763.9 L602.4 766.4 L603.7 770.9 L606.6 783.3 L608.0 788.4 L612.8 801.5 L616.8 811.1 L621.2 819.5 L626.3 827.7 L630.7 833.8 L633.5 837.1 L635.1 838.2 L636.7 838.1 L638.6 837.4 L640.6 836.1 L642.8 834.1 L650.3 826.4 L657.2 816.6 L659.7 813.4 L665.3 808.4 L666.9 807.2 L668.4 806.4 L670.2 806.1 L671.8 806.5 L673.5 807.7 L677.2 811.3 L678.8 812.5 L684.1 815.0 L687.7 816.4 L690.5 817.1 L692.9 817.2 L694.6 816.5 L696.5 815.1 L699.9 811.4 L701.1 809.5 L702.4 806.7 L704.3 801.9 L711.4 782.2 L717.1 764.6 L719.0 760.6 L719.9 759.5 L720.7 759.1 L721.3 759.2 L722.0 759.7 L723.4 761.8 L724.9 765.3 L727.8 773.1 L729.1 777.7 L732.2 791.2 L733.6 795.7 L735.2 798.7 L736.9 801.4 L738.7 803.7 L740.5 805.5 L743.6 807.9 L745.5 809.1 L747.2 809.7 L748.6 809.7 L750.1 808.4 L753.3 803.9 L754.6 802.5 L756.7 801.4 L761.4 799.7 L763.4 798.7 L764.4 797.9 L767.1 795.0 L767.9 794.5 L768.6 794.4 L769.3 794.9 L770.0 796.0 L773.2 803.3 L777.4 810.0 L779.3 812.6 L780.9 814.3 L782.4 815.2 L783.7 815.3 L784.9 814.5 L786.0 812.9 L787.1 810.6 L789.5 803.4 L790.1 799.5 L790.7 792.9 L794.0 745.3 L795.9 711.8 L797.1 681.6 L799.9 598.7 L801.4 566.7 L802.6 554.8 L804.9 538.6 L806.6 530.7 L807.4 528.7 L808.1 527.9 L808.6 528.0 L809.2 528.5 L810.3 530.6 L811.5 534.4 L812.7 539.8 L815.3 555.6 L818.3 579.1 L819.5 596.4 L822.3 651.4 L826.1 704.9 L827.4 720.9 L828.6 732.4 L829.6 738.8 L830.1 740.7 L830.6 741.5 L831.6 741.4 L832.8 740.6 L833.9 739.4 L835.1 737.5 L836.7 734.4 L838.4 730.2 L839.1 728.2 L839.6 725.7 L840.4 719.8 L841.3 711.0 L844.5 672.1 L845.8 658.7 L851.1 614.2 L852.7 604.3 L853.4 601.2 L854.1 599.1 L854.6 598.3 L855.1 598.1 L855.5 598.4 L856.0 599.5 L857.0 603.7 L858.2 611.7 L863.6 661.1 L866.9 699.9 L867.7 705.9 L868.1 707.7 L868.5 708.3 L868.8 708.1 L869.1 707.4 L869.7 704.9 L871.9 690.5 L872.8 686.4 L873.9 684.5 L876.2 682.3 L877.2 681.0 L877.9 679.4 L878.6 676.3 L879.9 667.5 L886.1 616.6 L887.0 610.4 L887.8 606.4 L888.3 604.9 L889.9 601.7 L892.7 597.4 L894.0 595.9 L895.2 594.9 L896.4 594.3 L897.6 594.1 L897.9 594.2 L898.2 594.7 L898.9 597.3 L900.4 607.9 L905.2 656.9 L908.7 699.4 L909.8 708.1 L910.3 710.3 L910.8 711.0 L911.3 710.5 L911.8 709.0 L913.0 702.3 L918.0 660.7 L921.3 630.9 L922.5 623.1 L923.1 620.6 L923.6 619.5 L924.0 619.3 L924.4 619.7 L925.3 622.6 L926.4 628.7 L929.0 646.3 L931.3 658.2 L932.5 663.1 L933.0 664.1 L933.6 664.2 L934.6 663.8 L935.7 662.8 L937.9 659.5 L940.4 654.0 L944.1 644.4 L945.4 639.2 L948.2 623.3 L949.4 617.8 L950.0 615.9 L950.6 614.9 L951.2 614.9 L951.8 615.4 L952.5 616.7 L953.2 618.5 L954.8 624.4 L958.8 643.7 L961.2 653.8 L965.4 673.7 L966.9 678.3 L967.6 679.3 L968.3 679.5 L969.3 678.6 L970.4 676.3 L971.6 672.4 L972.8 667.2 L975.0 655.6 L980.3 623.7 L982.8 611.5 L984.0 607.2 L985.1 604.6 L986.2 603.2 L986.7 603.1 L987.1 603.4 L988.0 605.7 L988.9 610.0 L989.9 616.7 L991.0 626.1 L992.9 646.1 L997.4 699.0 L999.7 721.1 L1000.7 728.2 L1001.7 733.2 L1002.7 735.9 L1003.1 736.2 L1003.6 736.0 L1004.2 735.1 L1004.9 733.2 L1006.2 727.3 L1007.6 718.0 L1009.0 706.3 L1011.7 678.4 L1017.8 607.4 L1020.8 578.6 L1022.1 569.2 L1023.4 562.2 L1024.6 558.4 L1025.2 557.4 L1025.7 557.2 L1026.2 557.6 L1026.8 558.7 L1027.9 562.8 L1029.1 569.9 L1030.4 580.2 L1033.3 610.6 L1039.4 688.5 L1042.1 719.0 L1043.5 731.7 L1044.9 741.7 L1046.2 747.8 L1046.8 749.5 L1047.4 750.4 L1047.9 750.6 L1048.3 750.2 L1049.3 747.4 L1050.3 742.2 L1051.4 734.2 L1053.8 710.1 L1058.6 651.2 L1060.7 628.4 L1061.8 618.7 L1062.9 611.1 L1063.9 606.4 L1064.4 604.9 L1064.9 604.1 L1065.3 604.0 L1065.8 604.4 L1066.7 606.2 L1067.6 609.6 L1068.6 614.7 L1070.7 629.1 L1074.9 664.1 L1076.7 677.5 L1078.6 688.0 L1079.5 691.1 L1080.3 692.7 L1080.7 693.0 L1081.1 692.9 L1081.8 691.9 L1082.6 689.4 L1083.4 685.6 L1085.0 675.4 L1089.5 641.4 L1090.8 634.3 L1092.0 630.4 L1094.5 626.8 L1096.7 624.4 L1098.8 623.1 L1099.9 622.9 L1100.3 623.2 L1101.0 625.0 L1101.8 628.8 L1105.2 650.0 L1106.1 653.0 L1106.5 653.4 L1107.0 653.3 L1107.6 652.7 L1108.3 651.3 L1109.8 646.7 L1114.4 625.7 L1116.0 619.5 L1117.4 615.9 L1118.0 615.1 L1118.6 614.8 L1119.4 615.3 L1120.3 617.0 L1121.2 619.8 L1122.2 624.0 L1124.4 636.5 L1129.1 669.0 L1131.2 681.7 L1132.3 686.9 L1133.4 690.9 L1134.4 693.2 L1134.9 693.7 L1135.3 693.9 L1135.7 693.8 L1136.2 692.9 L1137.1 690.1 L1140.5 672.5 L1141.9 667.2 L1142.4 666.2 L1143.2 665.6 L1146.7 664.1 L1148.0 663.3 L1148.6 662.4 L1149.2 660.7 L1150.9 653.3 L1155.2 628.5 L1156.4 623.6 L1157.0 622.1 L1157.5 621.3 L1158.1 621.1 L1158.7 621.8 L1159.3 623.4 L1160.0 626.1 L1161.3 633.1 L1164.8 655.2 L1165.9 660.2 L1166.8 662.7 L1167.3 663.3 L1167.7 663.3 L1168.6 662.0 L1169.5 659.4 L1172.3 649.4 L1173.1 647.7 L1173.5 647.2 L1173.9 647.2 L1174.8 648.0 L1175.8 650.2 L1178.8 660.1 L1179.9 663.1 L1180.8 664.7 L1181.2 665.1 L1181.6 665.1 L1182.2 664.2 L1182.9 661.4 L1185.8 643.4 L1186.4 640.5 L1187.0 638.6 L1187.5 637.9 L1188.6 637.1 L1192.4 635.4 L1194.0 634.1 L1195.3 632.0 L1198.6 625.0 L1199.5 623.7 L1200.4 622.9 L1200.9 622.9 L1201.2 623.3 L1202.1 626.7 L1205.1 647.9 L1206.1 653.3 L1206.5 654.6 L1206.9 655.2 L1207.6 655.1 L1208.3 654.3 L1209.8 651.1 L1211.5 645.3 L1216.9 620.8 L1218.8 613.3 L1220.6 608.4 L1221.5 607.1 L1222.3 606.7 L1222.7 606.9 L1223.1 607.7 L1224.0 611.1 L1224.9 616.8 L1225.8 624.5 L1227.9 647.9 L1232.5 710.6 L1234.5 734.4 L1235.6 744.8 L1236.6 751.9 L1237.6 756.3 L1238.1 757.5 L1238.5 757.8 L1239.1 757.4 L1239.7 756.4 L1240.9 752.2 L1242.2 744.9 L1243.5 735.2 L1246.6 704.5 L1253.1 626.0 L1256.0 595.2 L1257.6 581.7 L1259.1 572.1 L1260.5 566.4 L1261.2 564.9 L1261.8 564.4 L1262.2 564.6 L1262.7 565.4 L1263.7 569.2 L1264.7 575.6 L1265.8 585.2 L1268.1 611.6 L1272.8 676.5 L1274.8 701.3 L1275.9 712.5 L1277.0 721.5 L1278.0 727.2 L1278.9 730.2 L1279.4 730.8 L1279.9 730.7 L1280.5 730.0 L1281.2 728.6 L1282.5 724.1 L1283.8 717.6 L1286.7 697.6 L1292.8 645.6 L1295.4 626.3 L1296.8 618.1 L1298.1 612.3 L1299.4 608.7 L1300.0 607.9 L1300.6 607.6 L1301.1 607.9 L1301.7 608.9 L1302.8 612.5 L1304.0 618.6 L1305.2 626.6 L1307.5 646.1 L1312.8 697.1 L1315.4 717.2 L1316.6 723.8 L1317.7 727.9 L1318.3 729.2 L1318.8 729.8 L1319.3 729.8 L1319.7 729.1 L1320.4 726.2 L1321.1 721.4 L1322.7 704.7 L1328.2 621.7 L1329.4 606.1 L1330.4 595.7 L1331.3 589.1 L1332.2 585.5 L1334.4 583.1 L1335.3 582.5 L1336.2 582.4 L1336.7 582.8 L1337.2 584.0 L1338.3 588.5 L1339.5 596.4 L1340.7 606.9 L1343.0 632.1 L1348.2 696.8 L1350.8 722.9 L1352.0 731.4 L1353.1 736.6 L1353.6 738.0 L1354.1 738.8 L1354.6 739.0 L1355.1 738.4 L1356.0 735.6 L1357.0 730.2 L1359.2 711.9 L1366.2 637.4 L1374.7 538.0 L1377.6 511.9 L1379.9 494.2 L1381.1 487.0 L1382.2 482.2 L1384.6 475.5 L1387.1 469.5 L1389.7 464.3 L1392.2 460.3 L1394.6 457.6 L1395.8 456.7 L1397.0 456.1 L1398.5 455.9 L1400.4 456.2 L1402.3 457.1 L1404.3 458.4 L1406.4 460.3 L1408.6 462.7 L1414.2 469.9 L1416.1 473.7 L1420.4 485.8 L1422.4 490.3 L1425.0 493.6 L1430.8 498.9 L1432.2 500.7 L1433.4 502.6 L1434.8 506.3 L1438.3 517.9 L1439.5 520.6 L1441.3 524.0 L1443.1 526.8 L1445.0 529.4 L1450.7 535.0 L1455.1 541.9 L1456.0 542.8 L1456.9 543.2 L1457.6 543.1 L1458.4 542.3 L1460.2 539.2 L1464.3 529.4 L1468.0 518.0 L1468.9 516.2 L1469.8 515.2 L1472.0 513.8 L1477.3 511.6 L1483.9 506.9 L1485.5 506.0 L1486.9 505.6 L1488.6 505.7 L1490.5 506.2 L1496.9 509.6 L1499.3 510.5 L1501.6 510.7 L1503.9 509.9 L1505.9 508.7 L1509.9 505.7 L1512.3 503.6 L1521.1 494.3 L1527.6 486.3 L1529.4 484.6 L1531.1 483.7 L1532.3 483.5 L1533.2 483.7 L1534.2 484.5 L1535.3 485.8 L1537.6 489.7 L1541.9 498.8 L1543.9 504.1 L1548.4 517.7 L1552.7 533.6 L1554.2 538.4 L1555.9 542.3 L1556.7 543.2 L1557.4 543.5 L1557.9 543.2 L1558.5 542.4 L1559.8 539.2 L1563.6 526.6 L1566.7 515.3 L1568.1 511.3 L1570.1 507.0 L1572.0 503.7 L1575.0 499.8 L1576.7 498.2 L1578.1 497.6 L1582.5 497.9 L1586.9 498.7 L1588.6 499.7 L1591.0 502.6 L1594.9 508.6 L1599.2 517.6 L1602.3 522.0 L1604.1 524.3 L1605.6 525.7 L1606.9 526.3 L1608.2 526.3 L1609.4 525.8 L1610.8 524.6 L1614.5 520.2 L1616.1 516.7 L1619.4 507.4 L1620.8 504.0 L1623.3 499.8 L1626.3 495.5 L1630.1 491.0 L1637.4 483.8 L1640.2 481.7 L1641.4 481.2 L1642.6 481.0 L1643.7 481.3 L1644.9 482.4 L1649.9 489.8 L1660.8 500.7 L1662.1 502.4 L1665.9 508.6 L1667.1 509.9 L1668.2 510.4 L1668.7 510.3 L1669.3 509.9 L1670.5 508.0 L1674.2 498.8 L1678.9 488.6 L1680.0 487.0 L1682.9 484.0 L1683.9 483.5 L1685.0 483.5 L1687.6 483.7 L1690.2 484.3 L1695.1 486.0 L1700.0 488.4 L1701.5 489.8 L1703.1 491.9 L1704.8 494.7 L1705.7 496.9 L1707.0 501.2 L1710.4 514.1 L1713.4 526.3 L1714.9 530.9 L1716.9 534.4 L1718.5 536.5 L1719.8 537.5 L1721.1 537.5 L1722.0 537.1 L1722.9 536.4 L1724.8 534.2 L1727.0 530.6 L1729.5 525.6 L1730.7 521.4 L1734.1 506.3 L1736.4 500.2 L1740.6 485.2 L1744.3 476.3 L1746.3 473.1 L1750.4 469.3 L1753.8 467.1 L1755.4 466.5 L1756.9 466.3 L1758.8 466.6 L1760.9 467.5 L1765.1 470.3 L1769.7 472.9 L1772.5 475.3 L1773.8 477.6 L1777.0 485.2 L1778.5 487.9 L1780.3 489.5 L1784.4 491.9 L1786.5 493.6 L1788.7 495.7 L1790.4 498.1 L1791.4 500.7 L1793.4 508.7 L1794.2 511.2 L1796.8 516.3 L1798.6 518.7 L1799.7 519.3 L1801.1 519.1 L1802.4 518.3 L1805.7 515.6 L1807.4 514.9 L1809.3 515.2 L1813.4 517.2 L1815.2 517.7 L1816.7 517.5 L1820.0 516.2 L1821.3 516.1 L1822.1 516.8 L1823.0 518.5 L1826.6 527.6 L1827.4 528.8 L1828.1 529.3 L1828.7 529.2 L1829.4 528.4 L1831.0 524.8 L1834.8 512.3 L1838.1 499.0 L1838.9 496.9 L1840.5 493.6 L1842.0 491.2 L1843.5 489.2 L1849.3 483.2 L1851.1 481.6 L1852.8 480.5 L1854.3 479.8 L1855.8 479.4 L1856.6 479.4 L1857.4 479.7 L1859.1 481.3 L1861.0 484.2 L1863.5 488.9 L1865.0 493.5 L1868.5 507.4 L1872.0 518.6 L1873.0 521.2 L1876.0 527.5 L1877.2 529.4 L1878.3 530.4 L1878.9 530.4 L1879.6 530.2 L1881.1 528.4 L1882.7 525.4 L1885.8 518.4 L1887.3 514.3 L1894.4 492.1 L1896.5 486.8 L1897.5 485.1 L1900.2 481.9 L1901.8 480.6 L1903.3 480.0 L1904.1 480.0 L1904.8 480.4 L1906.5 482.5 L1911.3 490.8 L1916.2 500.0 L1922.3 510.1 L1924.8 513.3 L1929.8 518.2 L1931.9 522.0 L1932.7 523.1 L1933.1 523.2 L1934.1 523.2 L1938.7 522.9 L1942.1 522.5 L1944.9 521.9 L1949.3 520.1 L1950.8 519.1 L1952.9 517.1"/>
</defs>
<g stroke="#F7931E" stroke-width="1"><use href="#co" x="-1" y="-1"/><use href="#co" x="0" y="-1"/><use href="#co" x="1" y="-1"/><use href="#co" x="-1" y="0"/><use href="#co" x="0" y="0"/><use href="#co" x="1" y="0"/><use href="#co" x="-1" y="1"/><use href="#co" x="0" y="1"/><use href="#co" x="1" y="1"/></g>
<g stroke="#2FAEE0" stroke-width="1"><use href="#cb" x="-1" y="-1"/><use href="#cb" x="0" y="-1"/><use href="#cb" x="1" y="-1"/><use href="#cb" x="-1" y="0"/><use href="#cb" x="0" y="0"/><use href="#cb" x="1" y="0"/><use href="#cb" x="-1" y="1"/><use href="#cb" x="0" y="1"/><use href="#cb" x="1" y="1"/></g>
<g stroke="#EC008C" stroke-width="1"><use href="#cm" x="-1" y="-1"/><use href="#cm" x="0" y="-1"/><use href="#cm" x="1" y="-1"/><use href="#cm" x="-1" y="0"/><use href="#cm" x="0" y="0"/><use href="#cm" x="1" y="0"/><use href="#cm" x="-1" y="1"/><use href="#cm" x="0" y="1"/><use href="#cm" x="1" y="1"/></g>
</g>
<g fill="#000" shape-rendering="crispEdges">
<rect x="194" y="183" width="6" height="1420"/>
<rect x="194" y="1597" width="1761" height="6"/>
<rect x="199" y="183" width="25" height="5"/>
<rect x="199" y="340" width="25" height="5"/>
<rect x="199" y="496" width="25" height="6"/>
<rect x="199" y="654" width="25" height="6"/>
<rect x="199" y="811" width="25" height="6"/>
<rect x="199" y="968" width="25" height="5"/>
<rect x="199" y="1126" width="25" height="5"/>
<rect x="199" y="1282" width="25" height="6"/>
<rect x="199" y="1439" width="25" height="6"/>
<rect x="199" y="1518" width="11" height="6"/>
<rect x="199" y="1361" width="11" height="6"/>
<rect x="199" y="1204" width="11" height="6"/>
<rect x="199" y="1046" width="11" height="6"/>
<rect x="199" y="889" width="11" height="6"/>
<rect x="199" y="732" width="11" height="6"/>
<rect x="199" y="575" width="11" height="6"/>
<rect x="199" y="418" width="11" height="6"/>
<rect x="199" y="261" width="11" height="6"/>
<rect x="545" y="1571" width="6" height="27"/>
<rect x="896" y="1571" width="6" height="27"/>
<rect x="1247" y="1571" width="6" height="27"/>
<rect x="1598" y="1571" width="6" height="27"/>
<rect x="1950" y="1571" width="5" height="27"/>
<rect x="370" y="1586" width="5" height="12"/>
<rect x="721" y="1586" width="6" height="12"/>
<rect x="1072" y="1586" width="6" height="12"/>
<rect x="1423" y="1586" width="6" height="12"/>
<rect x="1774" y="1586" width="6" height="12"/>
</g>
<g font-size="62">
<text transform="translate(166.6 1622.5) scale(0.97 1)" text-anchor="end">1</text>
<text transform="translate(166.6 1465.33) scale(0.97 1)" text-anchor="end">2</text>
<text transform="translate(166.6 1308.17) scale(0.97 1)" text-anchor="end">3</text>
<text transform="translate(166.6 1151) scale(0.97 1)" text-anchor="end">4</text>
<text transform="translate(166.6 993.83) scale(0.97 1)" text-anchor="end">5</text>
<text transform="translate(166.6 836.67) scale(0.97 1)" text-anchor="end">6</text>
<text transform="translate(166.6 679.5) scale(0.97 1)" text-anchor="end">7</text>
<text transform="translate(166.6 522.33) scale(0.97 1)" text-anchor="end">8</text>
<text transform="translate(166.6 365.17) scale(0.97 1)" text-anchor="end">9</text>
<text transform="translate(166.6 208) scale(0.97 1)" text-anchor="end">10</text>
<text transform="translate(197.1 1679.3) scale(0.97 1)" text-anchor="middle">0</text>
<text transform="translate(548.2 1679.3) scale(0.97 1)" text-anchor="middle">30</text>
<text transform="translate(899.3 1679.3) scale(0.97 1)" text-anchor="middle">60</text>
<text transform="translate(1250.4 1679.3) scale(0.97 1)" text-anchor="middle">90</text>
<text transform="translate(1601.5 1679.3) scale(0.97 1)" text-anchor="middle">120</text>
<text transform="translate(1952.6 1679.3) scale(0.97 1)" text-anchor="middle">150</text>
</g>
<text transform="translate(80.3 1000) rotate(-90) scale(0.78 1)" x="93.41 130.91" y="0" font-size="76">pH</text>
<text transform="scale(1 1)" x="1026.04 1063.54 1096.48" y="1777.9" font-size="76">t/s</text>
<rect x="1656" y="37" width="423" height="335" fill="#fff" stroke="#000" stroke-width="2" shape-rendering="crispEdges"/>
<g shape-rendering="crispEdges">
<rect x="1665" y="83" width="149" height="3" fill="#4A4A4A"/>
<rect x="1665" y="164" width="149" height="3" fill="#F7931E"/>
<rect x="1665" y="244" width="149" height="4" fill="#2FAEE0"/>
<rect x="1665" y="325" width="149" height="3" fill="#EC008C"/>
</g>
<text transform="scale(0.68 1)" x="2724.93 2773.81" y="109.6" font-size="76">SV</text>
<text transform="scale(0.68 1)" x="2713.07 2780.62 2827.39 2884.24" y="190.8" font-size="76">MFAC</text>
<text transform="scale(0.68 1)" x="2713.07 2780.62 2827.39 2888.34 2938.35" y="272" font-size="76">MFAPC</text>
<text transform="scale(0.68 1)" x="2734 2767.77 2834.95 2881.51 2942.45 2992.47" y="351.6" font-size="76">IMFAPC</text>
</svg></body></html>
